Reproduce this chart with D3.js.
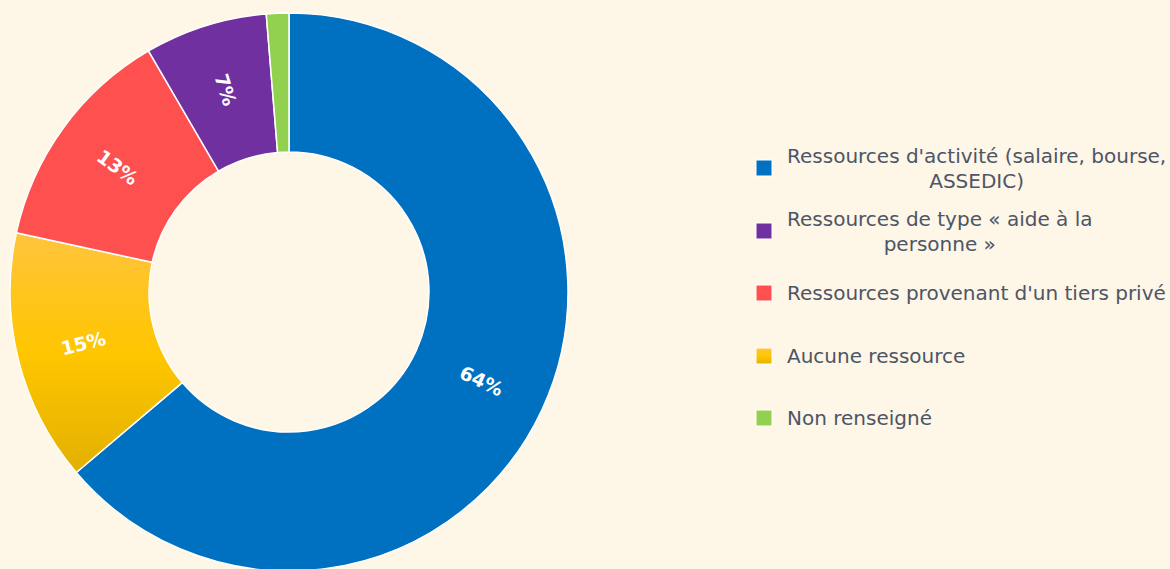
<!DOCTYPE html>
<html>
<head>
<meta charset="utf-8">
<script src="https://cdn.jsdelivr.net/npm/d3@7"></script>
<style>
  html, body { margin: 0; padding: 0; background: #fef6e6; }
  svg { display: block; }
</style>
</head>
<body>
<svg id="chart" width="1170" height="569"></svg>
<script>
// categories in legend order
const categories = [
    "Ressources d'activité (salaire, bourse, ASSEDIC)",
    "Ressources de type « aide à la personne »",
    "Ressources provenant d'un tiers privé",
    "Aucune ressource",
    "Non renseigné"
];
const legendLines = [
    ["Ressources d'activité (salaire, bourse,", "ASSEDIC)"],
    ["Ressources de type « aide à la", "personne »"],
    ["Ressources provenant d'un tiers privé"],
    ["Aucune ressource"],
    ["Non renseigné"]
];
const shares = [63.8, 7.1, 13.2, 14.6, 1.3];
const labels = ["64%", "7%", "13%", "15%", ""];
const colors = ["#0070c0", "#7030a0", "#ff5050", "url(#yellowGrad)", "#92d050"];
// clockwise order of slices from 12 o'clock
const sliceOrder = [0, 3, 2, 1, 4];

const svg = d3.select("#chart");
const cx = 289, cy = 292, outerR = 279, innerR = 140;

const defs = svg.append("defs");
const grad = defs.append("linearGradient")
    .attr("id", "yellowGrad")
    .attr("x1", 0).attr("y1", 0).attr("x2", 0).attr("y2", 1);
grad.append("stop").attr("offset", "0%").attr("stop-color", "#ffc43d");
grad.append("stop").attr("offset", "50%").attr("stop-color", "#ffc600");
grad.append("stop").attr("offset", "100%").attr("stop-color", "#e2b000");

const pie = d3.pie()
    .sort(null)
    .value(i => shares[i]);
const arc = d3.arc().innerRadius(innerR).outerRadius(outerR);
const labelArc = d3.arc().innerRadius(212).outerRadius(212);

const g = svg.append("g").attr("transform", `translate(${cx},${cy})`);
const arcs = pie(sliceOrder);

g.selectAll("path.slice")
    .data(arcs)
    .join("path")
    .attr("class", "slice")
    .attr("d", arc)
    .attr("fill", d => colors[d.data])
    .attr("stroke", "#ffffff")
    .attr("stroke-width", 1.5);

g.selectAll("text.pct")
    .data(arcs.filter(d => labels[d.data] !== ""))
    .join("text")
    .attr("class", "pct")
    .attr("transform", d => {
        const [x, y] = labelArc.centroid(d);
        const deg = (d.startAngle + d.endAngle) / 2 * 180 / Math.PI;
        const rot = deg < 180 ? deg - 90 : deg - 270;
        return `translate(${x},${y}) rotate(${rot})`;
    })
    .attr("text-anchor", "middle")
    .attr("dy", "0.35em")
    .attr("fill", "#ffffff")
    .attr("font-family", "DejaVu Sans, sans-serif")
    .attr("font-size", 19)
    .attr("font-weight", "bold")
    .text(d => labels[d.data]);

// legend
const legend = svg.append("g").attr("transform", "translate(756,0)");
const rowY = [168, 231, 293, 356, 418];

const rows = legend.selectAll("g.row")
    .data(categories.map((c, i) => i))
    .join("g")
    .attr("class", "row")
    .attr("transform", i => `translate(0,${rowY[i]})`);

rows.append("rect")
    .attr("x", 0).attr("y", -8)
    .attr("width", 16).attr("height", 16)
    .attr("fill", i => colors[i])
    .attr("stroke", "#ffffff")
    .attr("stroke-width", 1);

rows.each(function (i) {
    const lines = legendLines[i];
    const row = d3.select(this);
    const n = lines.length;
    let firstWidth = 0;
    lines.forEach((line, k) => {
        const y = (k - (n - 1) / 2) * 25;
        const t = row.append("text")
            .attr("y", y)
            .attr("dy", "0.35em")
            .attr("fill", "#4d5566")
            .attr("font-family", "DejaVu Sans, sans-serif")
            .attr("font-size", 20)
            .text(line);
        if (k === 0) {
            t.attr("x", 31).attr("text-anchor", "start");
            firstWidth = t.node().getComputedTextLength();
        } else {
            t.attr("x", 31 + firstWidth / 2).attr("text-anchor", "middle");
        }
    });
});
</script>
</body>
</html>
